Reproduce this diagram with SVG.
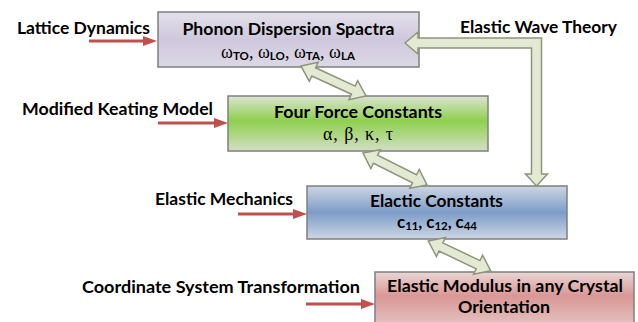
<svg xmlns="http://www.w3.org/2000/svg" width="638" height="322" viewBox="0 0 638 322">
  <style>
    .lbl { font-family: Lato, "Liberation Sans", sans-serif; font-weight: bold; font-size: 17px; fill: #000; }
    .sub { font-family: Lato, "Liberation Sans", sans-serif; font-weight: bold; font-size: 11.5px; }
    .grk { font-family: "Liberation Serif", "DejaVu Serif", serif; font-size: 18px; fill: #000; }
    .om { font-family: "Liberation Serif", "DejaVu Serif", serif; font-size: 18px; fill: #000; }
    .box { stroke: #7f7f7f; stroke-width: 1.5; }
    .red { stroke: #c0504d; stroke-width: 3; fill: none; marker-end: url(#rh); }
    .blk { fill: #e4e9d4; stroke: #8e9479; stroke-width: 1.5; stroke-linejoin: miter; }
  </style>
  <defs>
    <marker id="rh" viewBox="0 0 14 10" refX="6" refY="5" markerWidth="14" markerHeight="10" markerUnits="userSpaceOnUse" orient="auto">
      <path d="M0,0 L14,5 L0,10 Z" fill="#c0504d"/>
    </marker>
    <linearGradient id="gP" x1="0" y1="0" x2="0" y2="1">
      <stop offset="0" stop-color="#e3e0ea"/>
      <stop offset="0.5" stop-color="#cfc8dd"/>
      <stop offset="1" stop-color="#dcd8e6"/>
    </linearGradient>
    <linearGradient id="gG" x1="0" y1="0" x2="0" y2="1">
      <stop offset="0" stop-color="#dce4d2"/>
      <stop offset="0.45" stop-color="#8fcf4e"/>
      <stop offset="1" stop-color="#d3dfc5"/>
    </linearGradient>
    <linearGradient id="gB" x1="0" y1="0" x2="0" y2="1">
      <stop offset="0" stop-color="#cdd6e3"/>
      <stop offset="0.5" stop-color="#7d9cc8"/>
      <stop offset="1" stop-color="#cdd7e4"/>
    </linearGradient>
    <linearGradient id="gR" x1="0" y1="0" x2="0" y2="1">
      <stop offset="0" stop-color="#ead6d6"/>
      <stop offset="0.4" stop-color="#d99795"/>
      <stop offset="1" stop-color="#e6cccb"/>
    </linearGradient>
  </defs>

  <g id="label-lattice">
    <text class="lbl" x="17" y="33.5" textLength="133" lengthAdjust="spacingAndGlyphs">Lattice Dynamics</text>
  </g>
  <g id="label-keating">
    <text class="lbl" x="22" y="115" textLength="191" lengthAdjust="spacingAndGlyphs">Modified Keating Model</text>
  </g>
  <g id="label-mechanics">
    <text class="lbl" x="155" y="204.5" textLength="138" lengthAdjust="spacingAndGlyphs">Elastic Mechanics</text>
  </g>
  <g id="label-coordinate">
    <text class="lbl" x="82" y="293" textLength="278" lengthAdjust="spacingAndGlyphs">Coordinate System Transformation</text>
  </g>
  <g id="label-wave">
    <text class="lbl" x="460" y="32.5" textLength="157" lengthAdjust="spacingAndGlyphs">Elastic Wave Theory</text>
  </g>

  <g id="node-phonon">
    <rect class="box" x="158" y="12" width="261" height="55" fill="url(#gP)"/>
    <text class="lbl" x="182.5" y="34.5" textLength="212" lengthAdjust="spacingAndGlyphs">Phonon Dispersion Spactra</text>
    <text class="om" x="221" y="57.5" textLength="134" lengthAdjust="spacing">ω<tspan class="sub" dy="2">TO</tspan><tspan dy="-2">, ω</tspan><tspan class="sub" dy="2">LO</tspan><tspan dy="-2">, ω</tspan><tspan class="sub" dy="2">TA</tspan><tspan dy="-2">, ω</tspan><tspan class="sub" dy="2">LA</tspan></text>
  </g>

  <g id="node-force">
    <rect class="box" x="228" y="96" width="260" height="55" fill="url(#gG)"/>
    <text class="lbl" x="274" y="118" textLength="168" lengthAdjust="spacingAndGlyphs">Four Force Constants</text>
    <text class="grk" x="323" y="139.5" textLength="70" lengthAdjust="spacing">α, β, κ, τ</text>
  </g>

  <g id="node-elastic">
    <rect class="box" x="307" y="186" width="260" height="53" fill="url(#gB)"/>
    <text class="lbl" x="370" y="207" textLength="133" lengthAdjust="spacingAndGlyphs">Elactic Constants</text>
    <text class="lbl" x="397" y="227.5" textLength="80" lengthAdjust="spacing">c<tspan class="sub" dy="2.5">11</tspan><tspan dy="-2.5">, c</tspan><tspan class="sub" dy="2.5">12</tspan><tspan dy="-2.5">, c</tspan><tspan class="sub" dy="2.5">44</tspan></text>
  </g>

  <g id="node-modulus">
    <rect class="box" x="375" y="272" width="259" height="60" fill="url(#gR)"/>
    <text class="lbl" x="387" y="292" textLength="236" lengthAdjust="spacingAndGlyphs">Elastic Modulus in any Crystal</text>
    <text class="lbl" x="458" y="313" textLength="92" lengthAdjust="spacingAndGlyphs">Orientation</text>
  </g>

  <g id="connectors">
    <line class="red" x1="89" y1="41" x2="149" y2="41"/>
    <line class="red" x1="158" y1="123" x2="220" y2="123"/>
    <line class="red" x1="238" y1="214" x2="299" y2="214"/>
    <line class="red" x1="306" y1="304" x2="367" y2="304"/>

    <path class="blk" transform="translate(301,66) rotate(24.78)" d="M0,0 L14,-10.5 L14,-4.5 L57.6,-4.5 L57.6,-10.5 L71.6,0 L57.6,10.5 L57.6,4.5 L14,4.5 L14,10.5 Z"/>
    <path class="blk" transform="translate(363,153) rotate(26.57)" d="M0,0 L14,-10.5 L14,-4.5 L57.6,-4.5 L57.6,-10.5 L71.6,0 L57.6,10.5 L57.6,4.5 L14,4.5 L14,10.5 Z"/>
    <path class="blk" transform="translate(428.3,241) rotate(25.45)" d="M0,0 L14,-10.5 L14,-4.5 L55.1,-4.5 L55.1,-10.5 L69.1,0 L55.1,10.5 L55.1,4.5 L14,4.5 L14,10.5 Z"/>

    <path class="blk" d="M405,43 L418,32 L418,38 L541.5,38 L541.5,174 L547.5,174 L536.5,186 L525.5,174 L531.5,174 L531.5,48 L418,48 L418,54 Z"/>
  </g>
</svg>
